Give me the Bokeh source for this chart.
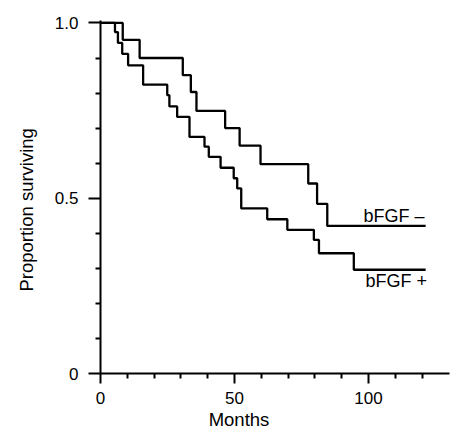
from bokeh.plotting import figure
from bokeh.models import Range1d, FixedTicker, Label
from bokeh.embed import file_html
from bokeh.resources import INLINE

# bFGF - group (upper curve)
neg_months = [0, 8.3, 14.6, 30.7, 33.7, 35.8, 46.5, 51.9, 59.7, 77.5, 80.8, 84.6, 121.3]
neg_surv = [1.0, 0.952, 0.90, 0.851, 0.803, 0.749, 0.70, 0.65, 0.597, 0.542, 0.484, 0.421, 0.421]

# bFGF + group (lower curve)
pos_months = [0, 5.4, 6.5, 8.1, 10.3, 15.9, 24.9, 25.7, 28.6, 33.2, 38.8, 40.4, 44.8,
              49.7, 51.0, 52.5, 62.2, 69.7, 79.6, 81.5, 94.5, 121.3]
pos_surv = [1.0, 0.974, 0.943, 0.912, 0.879, 0.824, 0.794, 0.762, 0.732, 0.675, 0.647, 0.618,
            0.587, 0.557, 0.528, 0.471, 0.44, 0.41, 0.381, 0.343, 0.296, 0.296]

x_major = [0, 50, 100]
x_minor = [10, 20, 30, 40, 60, 70, 80, 90, 110, 120]
y_major = [0, 0.5, 1.0]
y_minor = [0.1, 0.2, 0.3, 0.4, 0.6, 0.7, 0.8, 0.9]
y_tick_labels = {0: "0", 0.5: "0.5", 1: "1.0"}

FONT = "Liberation Sans"
NB = "\u00a0"

p = figure(width=450, height=432, output_backend="svg", toolbar_location=None,
           x_range=Range1d(0, 130.2), y_range=Range1d(0, 1.007),
           min_border_left=100, min_border_right=1, min_border_top=20, min_border_bottom=58)
p.outline_line_color = None
p.grid.visible = False
p.background_fill_color = "white"

for ax in (p.xaxis[0], p.yaxis[0]):
    ax.axis_line_width = 2
    ax.axis_line_color = "black"
    ax.major_tick_line_width = 2
    ax.minor_tick_line_width = 2
    ax.major_tick_line_color = "black"
    ax.minor_tick_line_color = "black"
    ax.major_tick_in = 0
    ax.minor_tick_in = 0
    ax.minor_tick_out = 5
    ax.major_label_text_font = FONT
    ax.major_label_text_font_size = "17px"
    ax.major_label_text_color = "black"
    ax.axis_label_text_font = FONT
    ax.axis_label_text_font_size = "18.5px"
    ax.axis_label_text_font_style = "normal"
    ax.axis_label_text_color = "black"

p.xaxis[0].ticker = FixedTicker(ticks=x_major, minor_ticks=x_minor)
p.xaxis[0].major_tick_out = 10
p.xaxis[0].major_label_standoff = 8
p.xaxis[0].axis_label = "Months" + NB * 14
p.xaxis[0].axis_label_standoff = 2

p.yaxis[0].ticker = FixedTicker(ticks=y_major, minor_ticks=y_minor)
p.yaxis[0].major_label_overrides = y_tick_labels
p.yaxis[0].major_tick_out = 12
p.yaxis[0].major_label_standoff = 10
p.yaxis[0].axis_label = "Proportion surviving" + NB * 5
p.yaxis[0].axis_label_standoff = 15

p.step(neg_months, neg_surv, mode="after", line_color="black", line_width=2.3)
p.step(pos_months, pos_surv, mode="after", line_color="black", line_width=2.3)

def add_label(x, y, text):
    p.add_layout(Label(x=x, y=y, text=text, text_font=FONT, text_font_size="18px",
                       text_color="black", text_align="left", text_baseline="alphabetic"))

add_label(98.1, 0.450, "bFGF \u2013")
add_label(98.9, 0.263, "bFGF +")

open("out.html", "w").write(file_html(p, INLINE))
